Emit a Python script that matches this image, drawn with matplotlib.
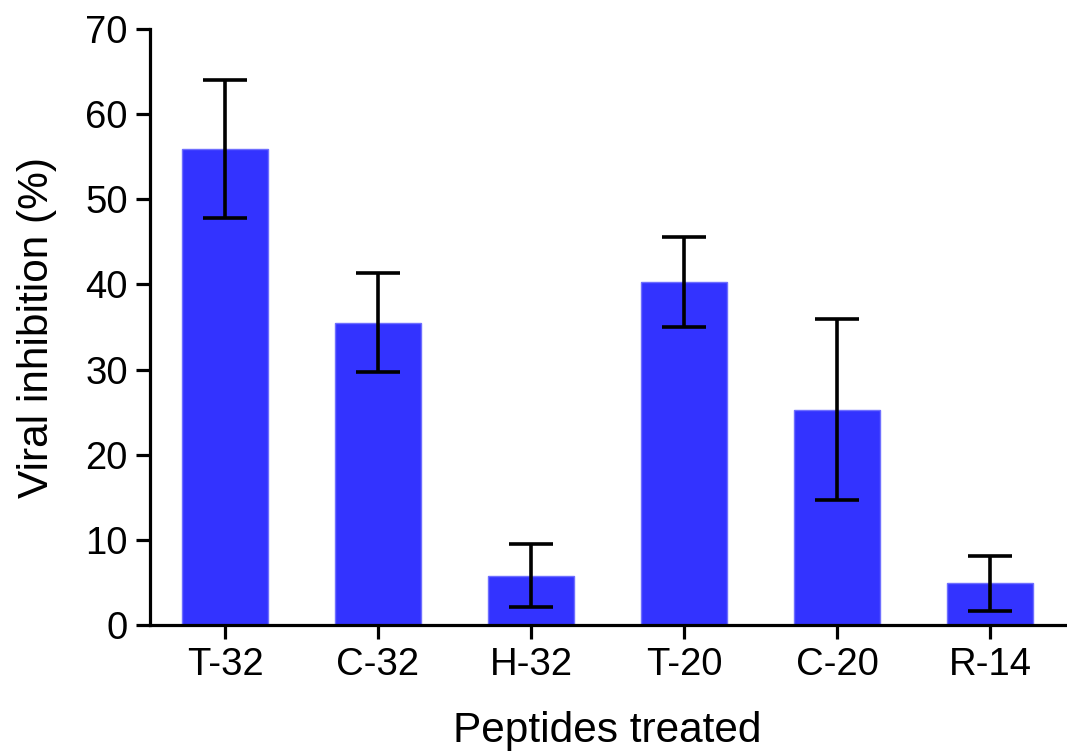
import matplotlib
matplotlib.use("Agg")
import matplotlib.pyplot as plt

plt.rcParams['font.family'] = ['Liberation Sans', 'DejaVu Sans']

peptides = ["T-32", "C-32", "H-32", "T-20", "C-20", "R-14"]
inhibition = [55.9, 35.5, 5.8, 40.3, 25.3, 4.9]
errors = [8.1, 5.8, 3.7, 5.3, 10.6, 3.2]
yticks = [0, 10, 20, 30, 40, 50, 60, 70]

fig = plt.figure(figsize=(10.67, 7.51), dpi=100)
ax = fig.add_axes([150 / 1067, 1 - 625 / 751, (1065 - 150) / 1067, (625 - 29) / 751])

x = list(range(len(peptides)))
ax.bar(x, inhibition, width=0.56, color="#3333FF", edgecolor="#6f6fff", linewidth=1.0,
       zorder=2)
ax.errorbar(x, inhibition, yerr=errors, fmt="none", ecolor="black", elinewidth=2.6,
            capsize=16, capthick=2.6, zorder=3)

ax.set_xlim(-0.49, 5.49)
ax.set_ylim(0, 70)
ax.set_yticks(yticks)
ax.set_xticks(x)
ax.set_xticklabels(peptides)

for side in ("top", "right"):
    ax.spines[side].set_visible(False)
for side in ("left", "bottom"):
    ax.spines[side].set_linewidth(2.3)
    ax.spines[side].set_color("black")

ax.tick_params(axis="both", direction="out", length=10, width=2.3, labelsize=27.5,
               colors="black", pad=6)
ax.set_xlabel("Peptides treated", fontsize=30.5, labelpad=20)
ax.set_ylabel("Viral inhibition (%)", fontsize=30.5, labelpad=20)

fig.savefig("out.png", dpi=100)
